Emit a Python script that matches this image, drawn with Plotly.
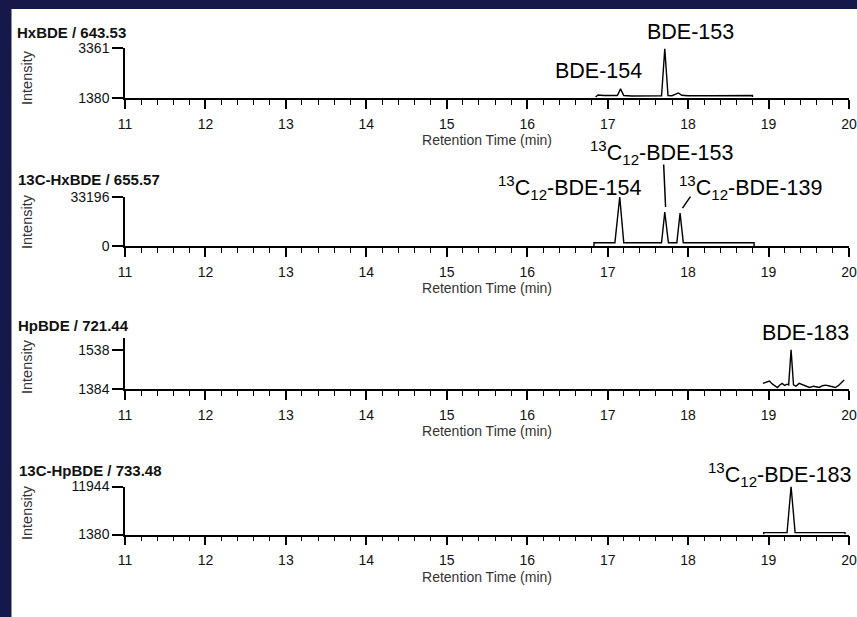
import plotly.graph_objects as go

# ---------------- data ----------------
x_ticks = [11, 12, 13, 14, 15, 16, 17, 18, 19, 20]
x_ticktext = ["11", "12", "13", "14", "15", "16", "17", "18", "19", "20"]

panel_names = ["HxBDE / 643.53", "13C-HxBDE / 655.57", "HpBDE / 721.44", "13C-HpBDE / 733.48"]
y_tickvals = [[1380, 3361], [0, 33196], [1384, 1538], [1380, 11944]]
y_ranges = [[1380, 3361], [0, 33196], [1384, 1584], [1380, 11944]]

# HxBDE / 643.53
rt1 = [16.85, 16.88, 16.95, 17.05, 17.12, 17.16, 17.20, 17.30, 17.50, 17.67, 17.71, 17.75,
       17.80, 17.85, 17.88, 17.92, 18.00, 18.30, 18.60, 18.80, 18.80]
int1 = [1420, 1500, 1480, 1470, 1480, 1740, 1480, 1460, 1460, 1470, 3330, 1480,
        1470, 1520, 1580, 1490, 1470, 1470, 1480, 1480, 1420]

# 13C-HxBDE / 655.57
rt2 = [16.83, 16.83, 17.09, 17.15, 17.20, 17.67, 17.71, 17.755, 17.86, 17.90, 17.94, 18.82, 18.82]
int2 = [0, 2250, 2250, 33196, 2250, 2250, 23000, 2250, 2250, 22300, 2250, 2250, 0]

# HpBDE / 721.44
rt3 = [18.93, 18.97, 19.01, 19.05, 19.08, 19.11, 19.14, 19.17, 19.20, 19.23, 19.25, 19.28, 19.31,
       19.34, 19.38, 19.44, 19.51, 19.56, 19.63, 19.67, 19.71, 19.77, 19.83, 19.87, 19.90, 19.94]
int3 = [1406, 1410, 1415, 1403, 1396, 1390, 1400, 1406, 1398, 1403, 1400, 1538, 1400,
        1395, 1406, 1399, 1390, 1395, 1390, 1397, 1399, 1395, 1390, 1398, 1406, 1419]

# 13C-HpBDE / 733.48
rt4 = [18.94, 18.94, 19.23, 19.28, 19.33, 19.95, 19.95]
int4 = [1380, 1800, 1800, 11944, 1800, 1800, 1380]

rts = [rt1, rt2, rt3, rt4]
ints = [int1, int2, int3, int4]

# ---------------- layout helpers ----------------
W, H = 857, 617
def px(x):
    return x / W
def py(y):
    return 1 - y / H

# pixel extents of each panel's y axis (top, bottom)
panel_px = [(48, 98), (197, 246), (338, 389), (486.5, 534.5)]
x_dom = [px(125), px(849)]

FONT = "Liberation Sans, Arial, Helvetica, sans-serif"

fig = go.Figure()
for i in range(4):
    ax = "" if i == 0 else str(i + 1)
    fig.add_trace(go.Scatter(x=rts[i], y=ints[i], mode="lines",
                             line=dict(color="black", width=1.4),
                             xaxis="x" + ax, yaxis="y" + ax, hoverinfo="skip"))
    top, bot = panel_px[i]
    fig.layout["xaxis" + ax] = dict(
        domain=x_dom, anchor="y" + ax, range=[11, 20], automargin=False,
        tickmode="array", tickvals=x_ticks, ticktext=x_ticktext,
        ticks="outside", ticklen=9, tickwidth=1.5, tickcolor="black",
        ticklabeloverflow="allow", ticklabelstandoff=3,
        minor=dict(dtick=0.2, tick0=11, ticks="outside", ticklen=5, tickwidth=1.3, tickcolor="black"),
        showline=True, linecolor="black", linewidth=1.5, showgrid=False, zeroline=False,
        tickfont=dict(size=14, color="#111", family=FONT),
        title=dict(text="Retention Time (min)", font=dict(size=14, color="#333", family=FONT), standoff=5),
        fixedrange=True,
    )
    fig.layout["yaxis" + ax] = dict(
        domain=[py(bot), py(top)], anchor="x" + ax, range=y_ranges[i], automargin=False,
        tickmode="array", tickvals=y_tickvals[i], ticktext=[str(v) for v in y_tickvals[i]],
        ticks="outside", ticklen=11, tickwidth=1.5, tickcolor="black",
        showline=True, linecolor="black", linewidth=1.5, showgrid=False, zeroline=False,
        tickfont=dict(size=14, color="#111", family=FONT), fixedrange=True,
    )

annotations = []
# panel names and "Intensity"
name_pos = [(15, 32), (16, 180), (16, 325), (17, 470)]
int_pos = [78, 222, 367, 513]
for i in range(4):
    annotations.append(dict(text="<b>" + panel_names[i] + "</b>", x=px(name_pos[i][0]), y=py(name_pos[i][1]),
                            xref="paper", yref="paper", xanchor="left", yanchor="middle", showarrow=False,
                            font=dict(size=15, color="#111", family=FONT)))
    annotations.append(dict(text="Intensity", x=px(27), y=py(int_pos[i]), xref="paper", yref="paper",
                            textangle=-90, xanchor="center", yanchor="middle", showarrow=False,
                            font=dict(size=14.5, color="#333", family=FONT)))

# peak labels
peak_labels = [
    ("BDE-153", 690, 32),
    ("BDE-154", 598, 71),
    ("<sup>13</sup>C<sub>12</sub>-BDE-154", 569, 187),
    ("<sup>13</sup>C<sub>12</sub>-BDE-153", 661, 152),
    ("<sup>13</sup>C<sub>12</sub>-BDE-139", 750, 187),
    ("BDE-183", 805, 333),
    ("<sup>13</sup>C<sub>12</sub>-BDE-183", 779, 474),
]
for t, x, y in peak_labels:
    annotations.append(dict(text=t, x=px(x), y=py(y), xref="paper", yref="paper",
                            xanchor="center", yanchor="middle", showarrow=False,
                            font=dict(size=21.5, color="black", family=FONT)))

# leader lines (panel 2)
annotations.append(dict(text="", x=17.72, y=26400, xref="x2", yref="y2", ax=-2, ay=-44,
                        showarrow=True, arrowhead=0, arrowwidth=1.5, arrowcolor="black"))
annotations.append(dict(text="", x=17.93, y=25700, xref="x2", yref="y2", ax=9, ay=-13,
                        showarrow=True, arrowhead=0, arrowwidth=1.5, arrowcolor="black"))

fig.update_layout(
    template="none",
    width=W, height=H, margin=dict(l=0, r=0, t=0, b=0, pad=0), autosize=False,
    paper_bgcolor="#16184a", plot_bgcolor="rgba(0,0,0,0)", showlegend=False,
    font=dict(family=FONT, color="black"),
    annotations=annotations,
    shapes=[dict(type="rect", xref="paper", yref="paper", x0=px(11.5), x1=1, y0=0, y1=py(9),
                 fillcolor="white", line=dict(width=0), layer="below")],
)

fig.write_html("out.html", config={"displayModeBar": False},
               post_script="document.body.style.margin='0';document.body.style.padding='0';")
